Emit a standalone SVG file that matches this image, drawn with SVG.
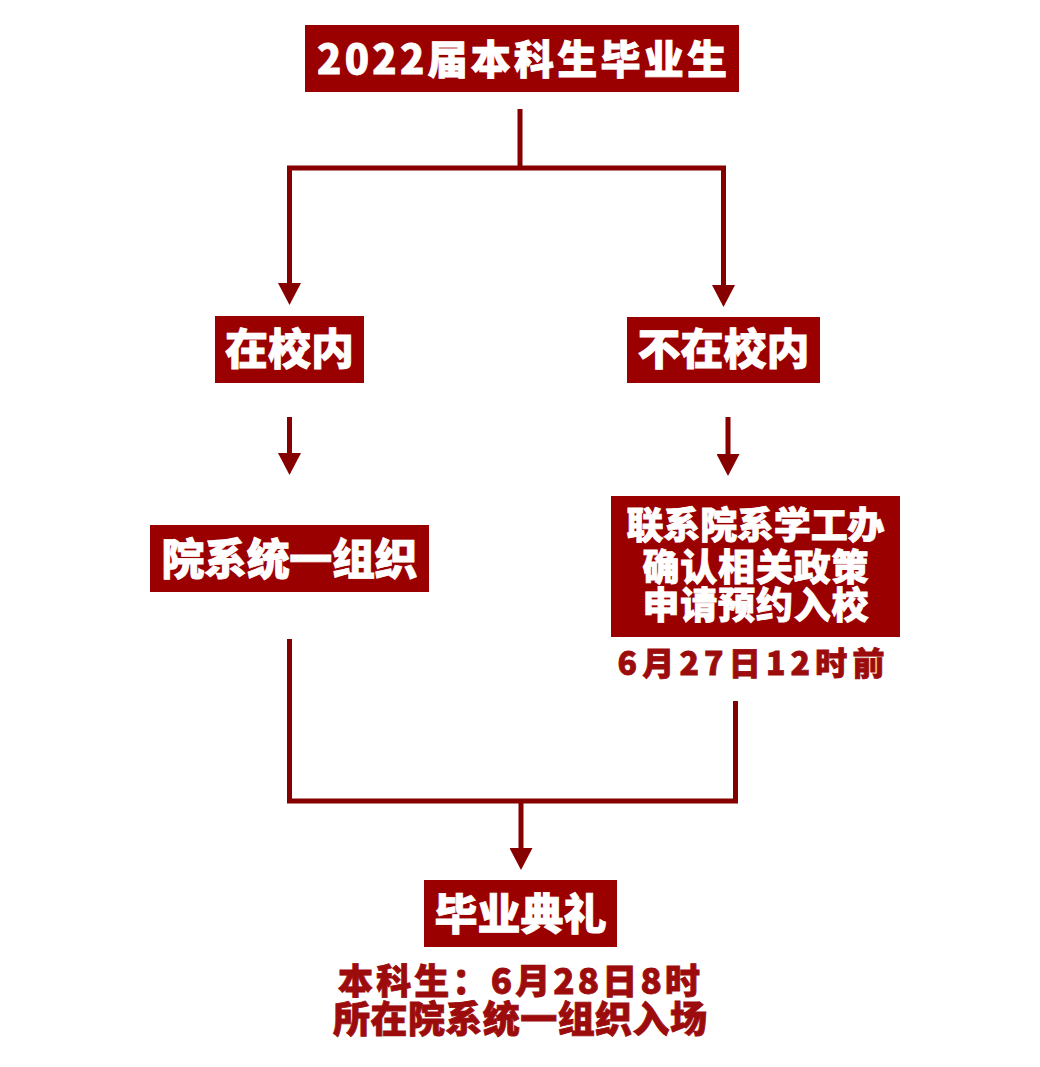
<svg xmlns="http://www.w3.org/2000/svg" width="1040" height="1067" viewBox="0 0 1040 1067">
<defs>
<style>
.box{fill:#9a0000;}
.t{font-family:"Noto Sans CJK SC","Noto Sans",sans-serif;font-weight:900;fill:#ffffff;stroke:#ffffff;stroke-width:0.8;text-anchor:middle;}
.r{font-family:"Noto Sans CJK SC","Noto Sans",sans-serif;font-weight:900;fill:#9c0c0c;stroke:#9c0c0c;stroke-width:0.8;text-anchor:middle;}
.ln{fill:none;stroke:#860000;stroke-width:5;stroke-linejoin:miter;stroke-linecap:butt;}
</style>
<marker id="ah" markerUnits="userSpaceOnUse" viewBox="0 0 22 23" refX="0" refY="11.5" markerWidth="22" markerHeight="23" orient="auto">
<path d="M0,0 L22,11.5 L0,23 z" fill="#860000"/>
</marker>
</defs>
<rect width="1040" height="1067" fill="#ffffff"/>
<g id="connectors">
<path class="ln" d="M520,109 V168"/>
<path class="ln" d="M520,168 H289.5 V283" marker-end="url(#ah)"/>
<path class="ln" d="M520,168 H723.5 V285" marker-end="url(#ah)"/>
<path class="ln" d="M289.5,417 V453" marker-end="url(#ah)"/>
<path class="ln" d="M728,417 V454" marker-end="url(#ah)"/>
<path class="ln" d="M289.5,639 V801 H735.5 V701"/>
<path class="ln" d="M521,801 V848" marker-end="url(#ah)"/>
</g>
<g id="node-top">
<rect class="box" x="305" y="25" width="434" height="67"/>
<text class="t" x="522" y="74" font-size="40" textLength="410" lengthAdjust="spacing">2022届本科生毕业生</text>
</g>
<g id="node-in">
<rect class="box" x="215" y="316" width="149" height="67"/>
<text class="t" x="289.5" y="365" font-size="43">在校内</text>
</g>
<g id="node-out">
<rect class="box" x="627" y="317" width="193" height="66"/>
<text class="t" x="723.5" y="365" font-size="43">不在校内</text>
</g>
<g id="node-dept">
<rect class="box" x="150" y="525" width="279" height="67"/>
<text class="t" x="289.5" y="575" font-size="43" textLength="256" lengthAdjust="spacing">院系统一组织</text>
</g>
<g id="node-contact">
<rect class="box" x="611" y="496" width="289" height="141"/>
<text class="t" x="755.5" y="539" font-size="37" textLength="258" lengthAdjust="spacing">联系院系学工办</text>
<text class="t" x="755.5" y="581" font-size="37" textLength="226" lengthAdjust="spacing">确认相关政策</text>
<text class="t" x="755.5" y="619" font-size="37" textLength="226" lengthAdjust="spacing">申请预约入校</text>
<text class="r" x="751" y="675" font-size="32" textLength="267" lengthAdjust="spacing">6月27日12时前</text>
</g>
<g id="node-ceremony">
<rect class="box" x="424" y="880" width="193" height="67"/>
<text class="t" x="520.5" y="930" font-size="43">毕业典礼</text>
<text class="r" x="519" y="994" font-size="35" textLength="362" lengthAdjust="spacing">本科生：6月28日8时</text>
<text class="r" x="520" y="1033" font-size="37" textLength="374" lengthAdjust="spacing">所在院系统一组织入场</text>
</g>
</svg>
